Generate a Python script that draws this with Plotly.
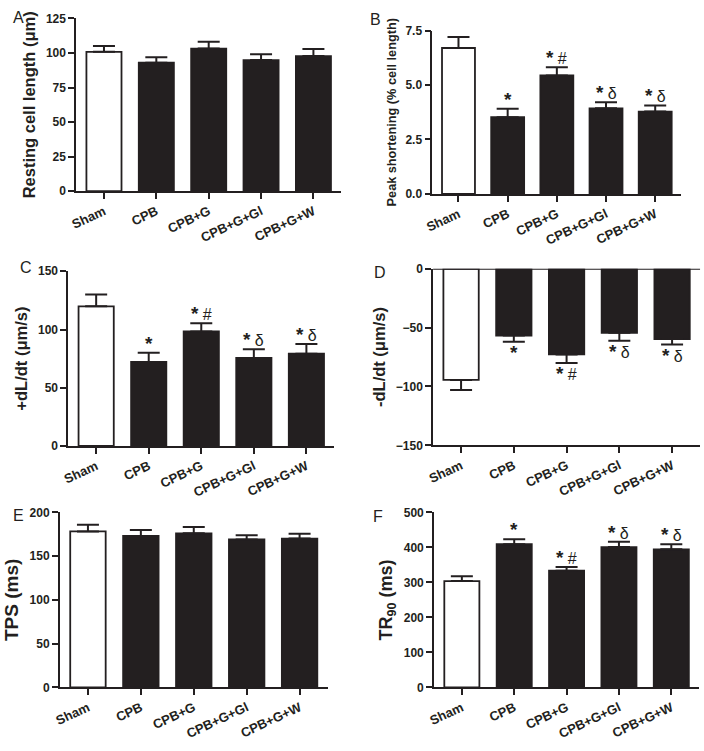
import plotly.graph_objects as go

# ---------------- data ----------------
groups = ["Sham", "CPB", "CPB+G", "CPB+G+Gl", "CPB+G+W"]

resting_len = [100.9, 93.0, 103.2, 94.9, 97.8]
resting_err = [4.2, 4.0, 5.0, 4.3, 5.2]

peak_short = [6.70, 3.52, 5.44, 3.93, 3.78]
peak_err = [0.50, 0.39, 0.38, 0.28, 0.28]
peak_sig = ["", "*", "* #", "* δ", "* δ"]

plus_dldt = [119.9, 72.2, 98.3, 75.6, 79.2]
plus_err = [10.1, 7.8, 7.0, 7.5, 8.4]
plus_sig = ["", "*", "* #", "* δ", "* δ"]

minus_dldt = [-94.4, -56.7, -72.8, -54.4, -59.7]
minus_err = [8.6, 5.2, 7.2, 6.7, 4.7]
minus_sig = ["", "*", "* #", "* δ", "* δ"]

tps = [178.3, 173.1, 176.1, 169.0, 170.1]
tps_err = [7.5, 6.7, 7.1, 4.8, 5.6]

tr90 = [303.7, 409.0, 333.6, 401.0, 394.4]
tr90_err = [14.0, 14.0, 10.5, 15.0, 14.6]
tr90_sig = ["", "*", "* #", "* δ", "* δ"]

# ---------------- styling ----------------
INK = "#231f20"
FONT = "Liberation Sans, Arial, sans-serif"
fills = ["white"] + [INK] * 4

W, H = 704, 751

def px_x(x):
    return x / W

def px_y(y):
    return 1 - y / H

def sig_html(s):
    # bold, enlarged asterisk followed by the regular symbol
    parts = s.split(" ")
    out = "<b><span style='font-size:19px'>%s</span></b>" % parts[0]
    if len(parts) > 1:
        out += " " + parts[1]
    return out

panels = [
    dict(vals=resting_len, err=resting_err, sig=None, yr=[0, 125], dt=25, fmt="",
         xd=(69, 337), yd=(11.7, 187.7), title="Resting cell length (μm)",
         tsize=16.5, letter="A", lpos=(11, 11)),
    dict(vals=peak_short, err=peak_err, sig=peak_sig, yr=[0, 7.5], dt=2.5, fmt=".1f",
         xd=(429.3, 681), yd=(24, 190.5), title="Peak shortening (% cell length)",
         tsize=12.7, letter="B", lpos=(372, 13)),
    dict(vals=plus_dldt, err=plus_err, sig=plus_sig, yr=[0, 150], dt=50, fmt="",
         xd=(61, 330), yd=(269.3, 447.3), title="+dL/dt (μm/s)",
         tsize=16.5, letter="C", lpos=(18, 265)),
    dict(vals=minus_dldt, err=minus_err, sig=minus_sig, yr=[-150, 0], dt=50, fmt="",
         xd=(430, 700), yd=(266.7, 446.7), title="-dL/dt (μm/s)",
         tsize=16.5, letter="D", lpos=(376, 271)),
    dict(vals=tps, err=tps_err, sig=None, yr=[0, 200], dt=50, fmt="",
         xd=(52.5, 323.3), yd=(515, 693.3), title="TPS (ms)",
         tsize=19, letter="E", lpos=(11, 518)),
    dict(vals=tr90, err=tr90_err, sig=tr90_sig, yr=[0, 500], dt=100, fmt="",
         xd=(431, 699), yd=(515, 693.3), title="TR<sub>90</sub> (ms)",
         tsize=18, letter="F", lpos=(374, 519)),
]

fig = go.Figure()
layout = dict(
    width=W, height=H,
    margin=dict(l=0, r=0, t=0, b=0),
    paper_bgcolor="white", plot_bgcolor="white",
    showlegend=False, bargap=0.33,
    font=dict(family=FONT, color=INK),
)
annotations = []
shapes = []

for i, p in enumerate(panels, start=1):
    sfx = "" if i == 1 else str(i)
    xa, ya = "x" + sfx, "y" + sfx
    neg = p["yr"][1] == 0
    if neg:
        ey = dict(type="data", symmetric=False, array=[0] * 5, arrayminus=p["err"],
                  color=INK, thickness=2, width=11)
    else:
        ey = dict(type="data", symmetric=False, array=p["err"], arrayminus=[0] * 5,
                  color=INK, thickness=2, width=11)
    fig.add_trace(go.Bar(
        x=groups, y=p["vals"], xaxis=xa, yaxis=ya,
        marker=dict(color=fills, line=dict(color=INK, width=1.8)),
        error_y=ey, hoverinfo="skip",
    ))
    layout["xaxis" + sfx] = dict(
        domain=[px_x(p["xd"][0]), px_x(p["xd"][1])], anchor=ya,
        type="category", range=[-0.53, 4.53],
        showline=True, linecolor=INK, linewidth=1.8,
        ticks="outside", ticklen=6, tickwidth=1.8, tickcolor=INK,
        tickangle=-25, tickfont=dict(family=FONT, size=13, color=INK, weight="bold"),
        showgrid=False, zeroline=False,
    )
    layout["yaxis" + sfx] = dict(
        domain=[px_y(p["yd"][1]), px_y(p["yd"][0])], anchor=xa,
        range=p["yr"], dtick=p["dt"], tick0=0, tickformat=p["fmt"],
        showline=True, linecolor=INK, linewidth=1.8,
        ticks="outside", ticklen=6, tickwidth=1.8, tickcolor=INK,
        tickfont=dict(family=FONT, size=12, color=INK, weight="bold"),
        showgrid=False, zeroline=False,
        title=dict(text=p["title"], standoff=6,
                   font=dict(family=FONT, size=p["tsize"], color=INK, weight="bold")),
    )
    # panel letter
    annotations.append(dict(
        text=p["letter"], xref="paper", yref="paper",
        x=px_x(p["lpos"][0]), y=px_y(p["lpos"][1]),
        showarrow=False, xanchor="center", yanchor="middle",
        font=dict(family=FONT, size=16, color=INK),
    ))
    # significance marks
    if p["sig"]:
        for g, v, e, s in zip(groups, p["vals"], p["err"], p["sig"]):
            if not s:
                continue
            annotations.append(dict(
                text=sig_html(s), xref=xa, yref=ya, x=g,
                y=(v - e) if neg else (v + e),
                showarrow=False, xanchor="center",
                yanchor="top" if neg else "bottom",
                yshift=2 if neg else -3,
                font=dict(family=FONT, size=16, color=INK),
            ))
    if neg:
        shapes.append(dict(type="line", xref=xa + " domain", yref=ya,
                           x0=0, x1=1, y0=0, y1=0,
                           line=dict(color=INK, width=1.8)))

layout["annotations"] = annotations
layout["shapes"] = shapes
fig.update_layout(**layout)
fig.write_html("out.html", config={"displayModeBar": False},
               post_script="document.body.style.margin='0';")
